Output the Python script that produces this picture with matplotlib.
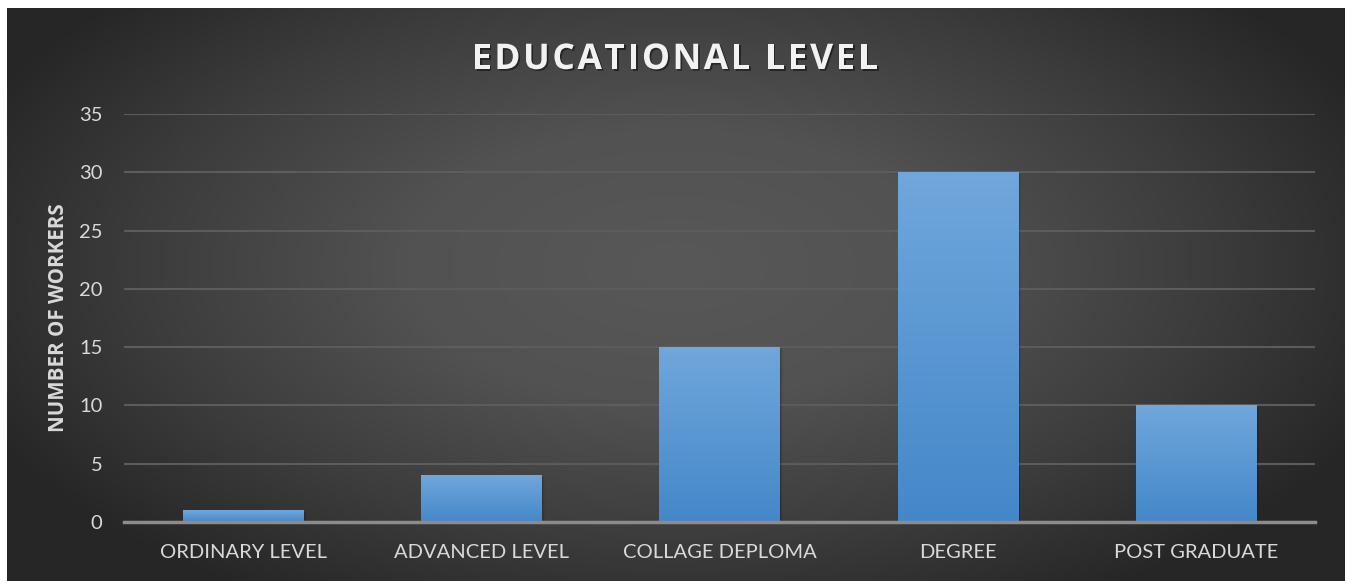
import numpy as np
import matplotlib.pyplot as plt
import matplotlib.patheffects as pe
from matplotlib.colors import LinearSegmentedColormap

# Data
categories = ["ORDINARY LEVEL", "ADVANCED LEVEL", "COLLAGE DEPLOMA", "DEGREE", "POST GRADUATE"]
workers = [1, 4, 15, 30, 10]
y_ticks = [0, 5, 10, 15, 20, 25, 30, 35]

W, H = 1347, 581
fig = plt.figure(figsize=(W / 100, H / 100), dpi=100, facecolor="white")

# Chart area with radial gradient background (white border on left/top/right)
bg = fig.add_axes([7 / W, 0, (1345 - 7) / W, (H - 8) / H])
bg.set_axis_off()
gx, gy = np.meshgrid(np.linspace(-1, 1, 400), np.linspace(-1, 1, 200))
r = np.sqrt(gx ** 2 + ((gy + 0.1) / 1.2) ** 2)
r = np.clip(r / 1.15, 0, 1)
bg_cmap = LinearSegmentedColormap.from_list(
    "bg", [(0, "#585858"), (0.35, "#525252"), (0.7, "#3c3c3c"), (1, "#262626")])
bg.imshow(r, cmap=bg_cmap, vmin=0, vmax=1, aspect="auto", extent=[0, 1, 0, 1])
bg.set_xlim(0, 1)
bg.set_ylim(0, 1)

# Main axes
ax = fig.add_axes([124 / W, 59 / H, (1315 - 124) / W, (522 - 114) / H])
ax.patch.set_alpha(0)
x = np.arange(len(categories))
bars = ax.bar(x, workers, width=0.505, color="none", zorder=3)

bar_cmap = LinearSegmentedColormap.from_list("bar", ["#4487c9", "#70a7dc"])
grad = np.linspace(0, 1, 256).reshape(-1, 1)
for b in bars:
    x0, w, h = b.get_x(), b.get_width(), b.get_height()
    # soft shadow
    for i, a in enumerate([0.10, 0.08, 0.06, 0.04]):
        d = 0.006 + i * 0.006
        ax.add_patch(plt.Rectangle((x0 + d * 0.6, -0.05 - d * 3), w, h, color="black",
                                   alpha=a, lw=0, zorder=2))
    ax.imshow(grad, cmap=bar_cmap, origin="lower", aspect="auto",
              extent=[x0, x0 + w, 0, h], zorder=3)

ax.set_xlim(-0.5, len(categories) - 0.5)
ax.set_ylim(0, 35)
ax.set_yticks(y_ticks)
ax.set_xticks(x)
ax.set_xticklabels(categories)
ax.grid(axis="y", color="#5c5c5c", lw=1.5, zorder=1)
ax.axhline(0, color="#8c8c8c", lw=2.5, zorder=4, clip_on=False)
for s in ax.spines.values():
    s.set_visible(False)
ax.tick_params(length=0, colors="#d9d9d9", labelsize=14.5)
ax.tick_params(axis="x", pad=16)
ax.tick_params(axis="y", pad=15.5)
for lbl in ax.get_xticklabels() + ax.get_yticklabels():
    lbl.set_fontfamily("Lato")

ax.set_ylabel("NUMBER OF WORKERS", color="#d9d9d9", fontsize=14.8, fontweight="bold",
              family="Open Sans", labelpad=7)

# Title with letter spacing: place characters one by one
title = "EDUCATIONAL LEVEL"
tracking = 2.6  # px between letters
renderer = fig.canvas.get_renderer()
shadow = [pe.SimplePatchShadow(offset=(1.2, -1.2), shadow_rgbFace="black", alpha=0.45), pe.Normal()]
props = dict(color="#f2f2f2", fontsize=25.5, fontweight="bold", family="Open Sans")
widths = []
for ch in title:
    if ch == " ":
        t = fig.text(0, 0, "A A", **props)
        wa = fig.text(0, 0, "AA", **props)
        widths.append(t.get_window_extent(renderer).width - wa.get_window_extent(renderer).width)
        t.remove()
        wa.remove()
    else:
        t = fig.text(0, 0, ch, **props)
        widths.append(t.get_window_extent(renderer).width)
        t.remove()
total = sum(widths) + tracking * (len(title) - 1)
xpos = 675 - total / 2
for ch, wch in zip(title, widths):
    if ch != " ":
        fig.text(xpos / W, 1 - 69 / H, ch, ha="left", va="baseline",
                 path_effects=shadow, **props)
    xpos += wch + tracking

fig.savefig("out.png", dpi=100)
